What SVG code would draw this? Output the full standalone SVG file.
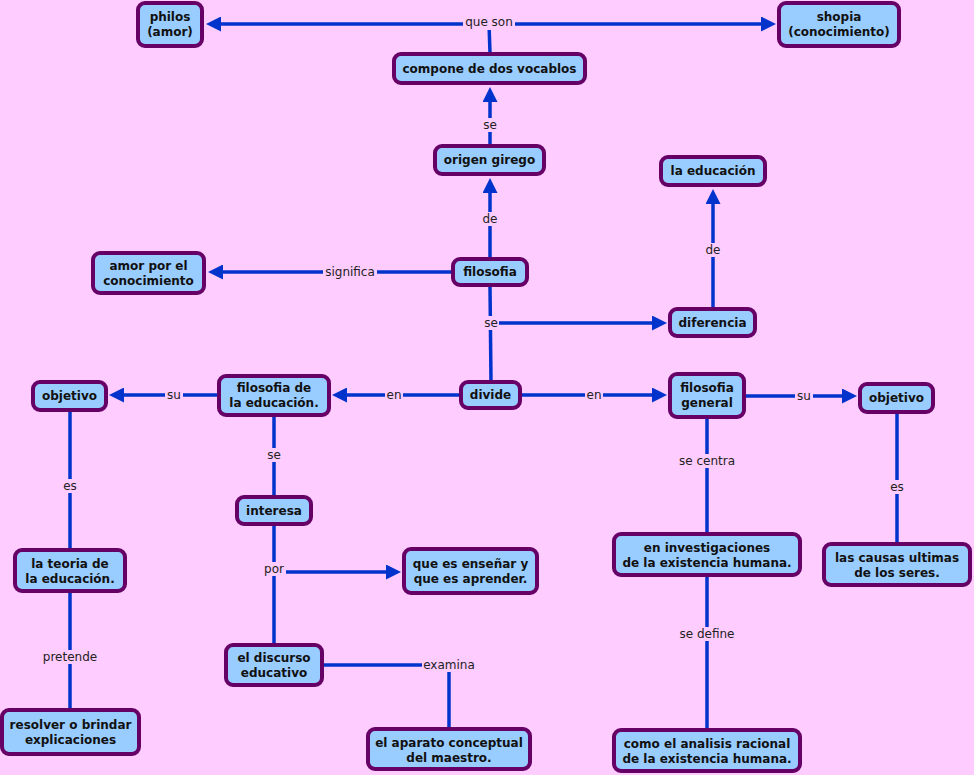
<svg xmlns="http://www.w3.org/2000/svg" width="974" height="775" viewBox="0 0 974 775">
<style>
.bg{fill:#ffccff}
.node rect{fill:#99ccff;stroke:#660066;stroke-width:4}
.node text{font-family:"DejaVu Sans",Verdana,sans-serif;font-weight:bold;font-size:12px;fill:#111;text-anchor:middle}
.conn path{fill:none;stroke:#0033cc;stroke-width:3.5}
.lbl rect{fill:#ffccff}
.lbl text{font-family:"DejaVu Sans",Verdana,sans-serif;font-size:12px;fill:#222;text-anchor:middle}
</style>
<defs>
<marker id="ah" markerWidth="15" markerHeight="15" refX="5" refY="7.5" orient="auto" markerUnits="userSpaceOnUse"><path d="M0,0 L15,7.5 L0,15 z" fill="#0033cc"/></marker>
</defs>
<rect class="bg" x="0" y="0" width="974" height="775"/>
<g id="connectors" class="conn">
<path d="M490,53 L489,24"/>
<path d="M489,24 L216,24" marker-end="url(#ah)"/>
<path d="M489,24 L766,24" marker-end="url(#ah)"/>
<path d="M490,146 L490,97" marker-end="url(#ah)"/>
<path d="M490,259 L490,188" marker-end="url(#ah)"/>
<path d="M453,272 L218,272" marker-end="url(#ah)"/>
<path d="M490,287 L491,382"/>
<path d="M491,323 L657,323" marker-end="url(#ah)"/>
<path d="M713,309 L713,199" marker-end="url(#ah)"/>
<path d="M461,395 L342,395" marker-end="url(#ah)"/>
<path d="M520,395 L657,395" marker-end="url(#ah)"/>
<path d="M219,395 L119,395" marker-end="url(#ah)"/>
<path d="M744,396 L847,396" marker-end="url(#ah)"/>
<path d="M70,410 L70,550"/>
<path d="M70,591 L70,710"/>
<path d="M274,415 L274,497"/>
<path d="M274,524 L274,645"/>
<path d="M274,572 L391,572" marker-end="url(#ah)"/>
<path d="M322,665 L449,665 L449,729"/>
<path d="M707,417 L707,534"/>
<path d="M707,575 L707,730"/>
<path d="M897,412 L897,544"/>
</g>
<g id="labels" class="lbl">
<rect x="463" y="16" width="52" height="14"/><text x="489" y="26">que son</text>
<rect x="482" y="118" width="16" height="14"/><text x="490" y="129">se</text>
<rect x="481" y="212" width="18" height="14"/><text x="490" y="223">de</text>
<rect x="323" y="265" width="54" height="14"/><text x="350" y="276">significa</text>
<rect x="483" y="316" width="16" height="14"/><text x="491" y="327">se</text>
<rect x="704" y="243" width="18" height="14"/><text x="713" y="254">de</text>
<rect x="385" y="388" width="18" height="14"/><text x="394" y="399">en</text>
<rect x="585" y="388" width="18" height="14"/><text x="594" y="399">en</text>
<rect x="165" y="388" width="18" height="14"/><text x="174" y="399">su</text>
<rect x="795" y="389" width="18" height="14"/><text x="804" y="400">su</text>
<rect x="62" y="479" width="16" height="14"/><text x="70" y="490">es</text>
<rect x="41" y="650" width="58" height="14"/><text x="70" y="661">pretende</text>
<rect x="266" y="448" width="16" height="14"/><text x="274" y="459">se</text>
<rect x="263" y="562" width="23" height="14"/><text x="274" y="573">por</text>
<rect x="422" y="658" width="54" height="14"/><text x="449" y="669">examina</text>
<rect x="678" y="454" width="59" height="14"/><text x="707" y="465">se centra</text>
<rect x="679" y="627" width="57" height="14"/><text x="707" y="638">se define</text>
<rect x="889" y="480" width="16" height="14"/><text x="897" y="491">es</text>
</g>
<g id="n-philos" class="node"><rect x="138" y="3" width="64" height="43" rx="7"/><text x="170" y="21">philos</text><text x="170" y="36">(amor)</text></g>
<g id="n-shopia" class="node"><rect x="779" y="3" width="120" height="43" rx="7"/><text x="839" y="21">shopia</text><text x="839" y="36">(conocimiento)</text></g>
<g id="n-compone" class="node"><rect x="394" y="54" width="191" height="29" rx="7"/><text x="489.5" y="73">compone de dos vocablos</text></g>
<g id="n-origen" class="node"><rect x="435" y="146" width="109" height="28" rx="7"/><text x="489.5" y="164">origen girego</text></g>
<g id="n-laeducacion" class="node"><rect x="661" y="157" width="104" height="28" rx="7"/><text x="713" y="175">la educación</text></g>
<g id="n-amor" class="node"><rect x="93" y="253" width="111" height="40" rx="7"/><text x="148.5" y="270">amor por el</text><text x="148.5" y="285">conocimiento</text></g>
<g id="n-filosofia" class="node"><rect x="453" y="259" width="74" height="26" rx="7"/><text x="490" y="276">filosofia</text></g>
<g id="n-diferencia" class="node"><rect x="670" y="309" width="85" height="27" rx="7"/><text x="712.5" y="327">diferencia</text></g>
<g id="n-objetivo-l" class="node"><rect x="33" y="382" width="73" height="28" rx="7"/><text x="69.5" y="400">objetivo</text></g>
<g id="n-fil-educ" class="node"><rect x="219" y="376" width="110" height="39" rx="7"/><text x="274" y="392">filosofia de</text><text x="274" y="407">la educación.</text></g>
<g id="n-divide" class="node"><rect x="461" y="382" width="59" height="26" rx="7"/><text x="490.5" y="399">divide</text></g>
<g id="n-fil-general" class="node"><rect x="670" y="374" width="74" height="43" rx="7"/><text x="707" y="392">filosofia</text><text x="707" y="407">general</text></g>
<g id="n-objetivo-r" class="node"><rect x="860" y="384" width="73" height="28" rx="7"/><text x="896.5" y="402">objetivo</text></g>
<g id="n-interesa" class="node"><rect x="237" y="497" width="74" height="27" rx="7"/><text x="274" y="515">interesa</text></g>
<g id="n-teoria" class="node"><rect x="15" y="550" width="110" height="41" rx="7"/><text x="70" y="568">la teoria de</text><text x="70" y="583">la educación.</text></g>
<g id="n-quees" class="node"><rect x="404" y="549" width="133" height="44" rx="7"/><text x="470.5" y="568">que es enseñar y</text><text x="470.5" y="583">que es aprender.</text></g>
<g id="n-discurso" class="node"><rect x="226" y="645" width="96" height="40" rx="7"/><text x="274" y="662">el discurso</text><text x="274" y="677">educativo</text></g>
<g id="n-resolver" class="node"><rect x="2" y="710" width="137" height="44" rx="7"/><text x="70.5" y="729">resolver o brindar</text><text x="70.5" y="744">explicaciones</text></g>
<g id="n-aparato" class="node"><rect x="368" y="729" width="162" height="40" rx="7"/><text x="449" y="747">el aparato conceptual</text><text x="449" y="762">del maestro.</text></g>
<g id="n-investigaciones" class="node"><rect x="614" y="534" width="186" height="41" rx="7"/><text x="707" y="552">en investigaciones</text><text x="707" y="567">de la existencia humana.</text></g>
<g id="n-causas" class="node"><rect x="824" y="544" width="146" height="41" rx="7"/><text x="897" y="562">las causas ultimas</text><text x="897" y="577">de los seres.</text></g>
<g id="n-como" class="node"><rect x="614" y="730" width="186" height="41" rx="7"/><text x="707" y="748">como el analisis racional</text><text x="707" y="763">de la existencia humana.</text></g>
</svg>
